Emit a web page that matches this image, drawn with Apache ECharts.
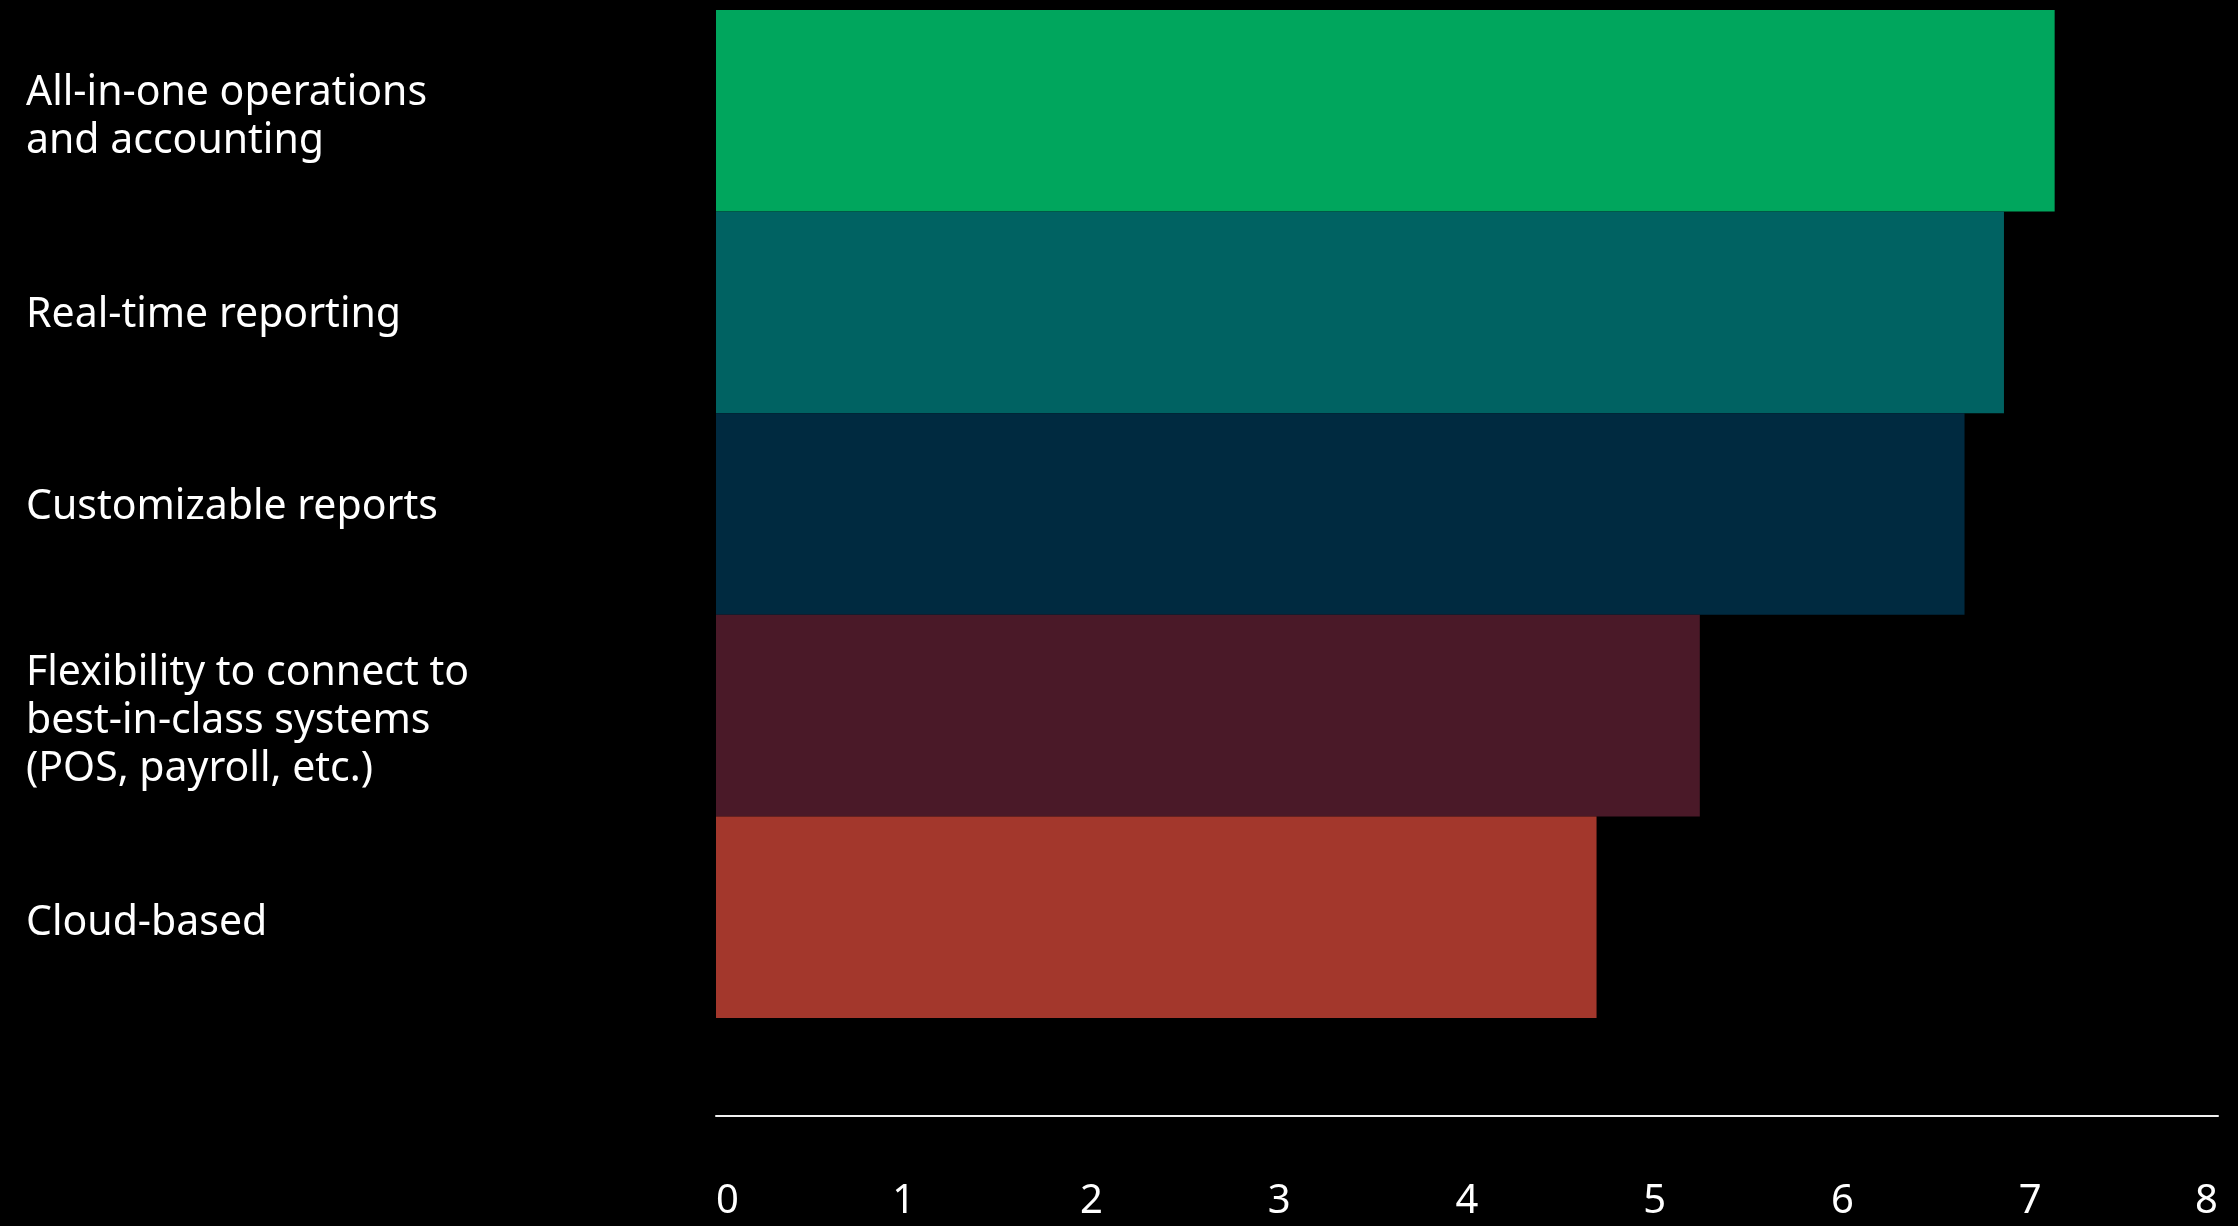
<!DOCTYPE html>
<html>
<head>
<meta charset="utf-8">
<title>Feature priorities</title>
<script src="https://cdn.jsdelivr.net/npm/echarts@6/dist/echarts.min.js"></script>
<style>
  html, body { margin: 0; padding: 0; background: #000; }
  #chart { width: 2238px; height: 1226px; }
</style>
</head>
<body>
<div id="chart"></div>
<script>
// Feature categories, top to bottom
const categories = [
  'All-in-one operations\nand accounting',
  'Real-time reporting',
  'Customizable reports',
  'Flexibility to connect to\nbest-in-class systems\n(POS, payroll, etc.)',
  'Cloud-based'
];

// Scores per feature
const scores = [7.13, 6.86, 6.65, 5.24, 4.69];

// One colour per bar
const barColors = ['#00A65D', '#006262', '#002A40', '#4A1928', '#A3372C'];

// Value axis tick labels
const tickValues = [0, 1, 2, 3, 4, 5, 6, 7, 8];

// Vertical nudge (px, positive = down) for each category label
const labelNudge = [7, 3, -7, 6, 6];

const FONT = '"Noto Sans", "IBM Plex Sans", sans-serif';

// Build rich styles: a thin spacer line above or below shifts the centred block
const rich = { t: { color: '#ffffff', fontFamily: FONT, fontSize: 41, lineHeight: 48 } };
labelNudge.forEach((n, i) => {
  rich['s' + i] = { fontSize: 1, lineHeight: Math.max(1, Math.abs(n) * 2) };
});

function formatCategory(value) {
  const i = categories.indexOf(value);
  const body = value.split('\n').map(l => '{t|' + l + '}').join('\n');
  const n = labelNudge[i] || 0;
  if (n > 0) return '{s' + i + '| }\n' + body;
  if (n < 0) return body + '\n{s' + i + '| }';
  return body;
}

const chart = echarts.init(document.getElementById('chart'), null, { renderer: 'canvas' });

chart.setOption({
  backgroundColor: '#000000',
  animation: false,
  grid: { left: 716, right: 20, top: 10, bottom: 208, containLabel: false },
  xAxis: {
    type: 'value',
    min: tickValues[0],
    max: tickValues[tickValues.length - 1],
    interval: 1,
    offset: 98,
    axisLine: { show: true, lineStyle: { color: '#f0f0f0', width: 2 } },
    axisTick: { show: false },
    splitLine: { show: false },
    axisLabel: {
      color: '#ffffff',
      fontFamily: FONT,
      fontSize: 40,
      margin: 66,
      alignMinLabel: 'left',
      alignMaxLabel: 'right'
    }
  },
  yAxis: {
    type: 'category',
    inverse: true,
    data: categories,
    axisLine: { show: false },
    axisTick: { show: false },
    splitLine: { show: false },
    axisLabel: {
      color: '#ffffff',
      fontFamily: FONT,
      fontSize: 41,
      lineHeight: 48,
      align: 'left',
      margin: 690,
      formatter: formatCategory,
      rich: rich
    }
  },
  series: [{
    type: 'bar',
    barWidth: '100%',
    barCategoryGap: 0,
    data: scores.map((v, i) => ({ value: v, itemStyle: { color: barColors[i] } })),
    label: { show: false }
  }]
});
</script>
</body>
</html>
